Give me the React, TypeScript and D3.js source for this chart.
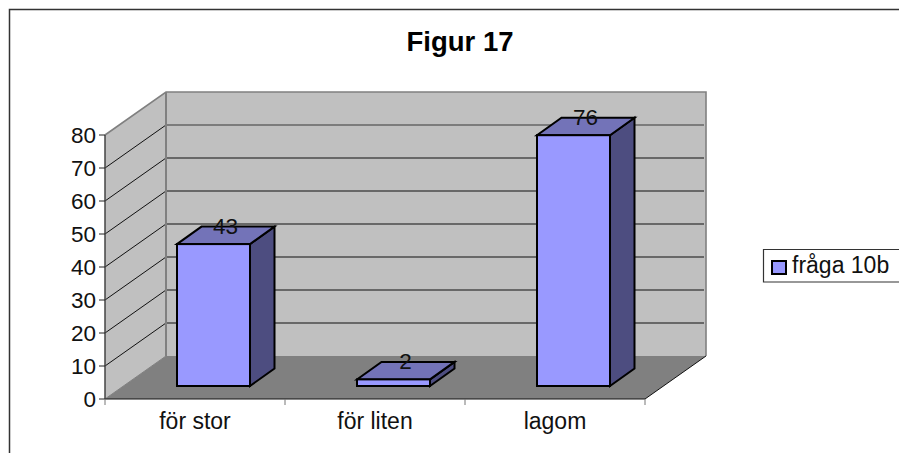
import React from "react";
import * as d3 from "d3";

const categories = ["för stor", "för liten", "lagom"];
const values = [43, 2, 76];
const yTicks = [0, 10, 20, 30, 40, 50, 60, 70, 80];
const seriesName = "fråga 10b";
const title = "Figur 17";

const font = "'Liberation Sans', Arial, sans-serif";
const y = d3.scaleLinear().domain([0, 80]).range([399, 135]);
const x = d3.scaleBand().domain(categories).range([105, 645]).paddingInner(0).paddingOuter(0);
const DX = 61, DY = -43;
const barOffY = -13, barDX = 24.5, barDY = -17.5, barW = 73;
const labelSize = 22.5;
const textSize = 23;

const poly = (pts: [number, number][]) => (d3.line()(pts) as string) + "Z";

export default function App() {
  const x0 = x.range()[0], x1 = x.range()[1];
  const y0 = y(0), yTop = y(80);
  return (
    <svg width={899} height={453} style={{ position: "absolute", left: 0, top: 0, background: "#fff" }}>
      <path d={`M9.5,453V9.5H899`} fill="none" stroke="#333" strokeWidth={1.5} />
      <text x={460} y={51} textAnchor="middle" fontFamily={font} fontSize={27.5} fontWeight="bold" fill="#000">{title}</text>

      <path d={poly([[x0 + DX, y0 + DY], [x1 + DX, y0 + DY], [x1 + DX, yTop + DY], [x0 + DX, yTop + DY]])} fill="#c0c0c0" />
      <path d={poly([[x0, y0], [x0 + DX, y0 + DY], [x0 + DX, yTop + DY], [x0, yTop]])} fill="#c0c0c0" />
      <path d={poly([[x0, y0], [x1, y0], [x1 + DX, y0 + DY], [x0 + DX, y0 + DY]])} fill="#808080" />

      {yTicks.slice(1).map((t) => {
        const c = t >= 70 ? "#666" : "#111";
        return (
          <g key={t}>
            {t < 80 && <line x1={x0} y1={y(t)} x2={x0 + DX} y2={y(t) + DY} stroke="#111" strokeWidth={1} />}
            {t < 80 && <line x1={x0 + DX} y1={y(t) + DY} x2={x1 + DX - 2} y2={y(t) + DY} stroke={c} strokeWidth={t === 70 ? 1.5 : 1} />}
          </g>
        );
      })}
      <path d={`M${x0},${yTop}L${x0 + DX},${yTop + DY}H${x1 + DX}V${y0 + DY}`} fill="none" stroke="#808080" strokeWidth={1.6} />
      <line x1={x0 + DX} y1={yTop + DY} x2={x0 + DX} y2={y0 + DY} stroke="#808080" strokeWidth={2} />
      <line x1={x0} y1={yTop} x2={x0} y2={y0} stroke="#444" strokeWidth={1.5} />

      {/* axes */}
      <line x1={x1} y1={y0} x2={x1 + DX} y2={y0 + DY} stroke="#111" strokeWidth={1} />
      <line x1={x0} y1={y0} x2={x0 + DX} y2={y0 + DY} stroke="#808080" strokeWidth={1} />
      <line x1={x0} y1={y0} x2={x1} y2={y0} stroke="#111" strokeWidth={1.2} />
      {yTicks.map((t) => (
        <g key={t}>
          <line x1={x0 - 6} y1={y(t)} x2={x0} y2={y(t)} stroke="#222" strokeWidth={1} />
          <text x={96} y={y(t) + 8} textAnchor="end" fontFamily={font} fontSize={labelSize} fill="#111">{t}</text>
        </g>
      ))}
      {[...categories.map((c) => x(c) as number), x1].map((px) => (
        <line key={px} x1={px} y1={y0} x2={px} y2={y0 + 6} stroke="#777" strokeWidth={1} />
      ))}
      {categories.map((c) => (
        <text key={c} x={(x(c) as number) + x.bandwidth() / 2} y={429} textAnchor="middle" fontFamily={font} fontSize={textSize} fill="#111">{c}</text>
      ))}

      {/* bars */}
      {categories.map((c, i) => {
        const v = values[i];
        const bx = (x(c) as number) + 72;
        const by0 = y0 + barOffY;
        const byT = y(v) + barOffY;
        const r = bx + barW;
        return (
          <g key={c} stroke="#000" strokeWidth={2} strokeLinejoin="miter">
            <path d={poly([[r, by0], [r + barDX, by0 + barDY], [r + barDX, byT + barDY], [r, byT]])} fill="#4d4d80" />
            <path d={poly([[bx, byT], [r, byT], [r + barDX, byT + barDY], [bx + barDX, byT + barDY]])} fill="#7373b8" />
            <rect x={bx} y={byT} width={barW} height={by0 - byT} fill="#9999ff" />
            <text x={bx + barW / 2 + 12} y={byT + barDY + 7} stroke="none" textAnchor="middle" fontFamily={font} fontSize={labelSize} fill="#111">{v}</text>
          </g>
        );
      })}

      {/* legend */}
      <path d="M899,249.5H763.5V282H899" fill="#fff" stroke="#333" strokeWidth={1.2} />
      <rect x={772} y={261} width={14} height={13} fill="#9999ff" stroke="#000" strokeWidth={2} />
      <text x={792} y={273} fontFamily={font} fontSize={textSize} fill="#111">{seriesName}</text>
    </svg>
  );
}
